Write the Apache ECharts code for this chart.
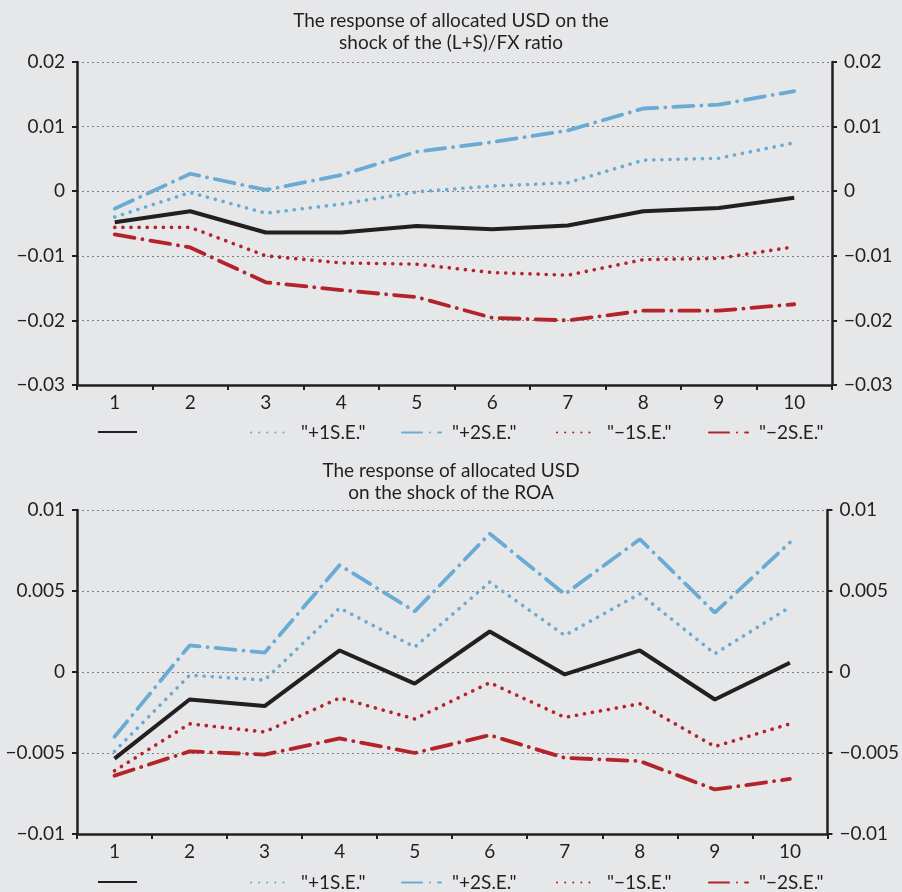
<!DOCTYPE html>
<html><head><meta charset="utf-8">
<script src="https://cdn.jsdelivr.net/npm/echarts@6/dist/echarts.min.js"></script>
<style>html,body{margin:0;padding:0;background:#e6e7e8;}#c{width:902px;height:892px;}</style>
</head><body><div id="c"></div>
<script>
const categories = ['1','2','3','4','5','6','7','8','9','10'];
const topTitle = 'The response of allocated USD on the\nshock of the (L+S)/FX ratio';
const bottomTitle = 'The response of allocated USD\non the shock of the ROA';
const seriesNames = ['IRF', '"+1S.E."', '"+2S.E."', '"\u22121S.E."', '"\u22122S.E."'];

// top chart: (L+S)/FX ratio shock
const topIRF   = [-0.0048, -0.0031, -0.0064, -0.0064, -0.0054, -0.0059, -0.0053, -0.0031, -0.0026, -0.0010];
const topP1SE  = [-0.0040, -0.0002, -0.0034, -0.0020, -0.0001, 0.0008, 0.0013, 0.0048, 0.0051, 0.0075];
const topP2SE  = [-0.0027, 0.0027, 0.0002, 0.0025, 0.0061, 0.0076, 0.0094, 0.0128, 0.0134, 0.0155];
const topM1SE  = [-0.0056, -0.0056, -0.0100, -0.0111, -0.0113, -0.0126, -0.0130, -0.0106, -0.0104, -0.0086];
const topM2SE  = [-0.0067, -0.0087, -0.0141, -0.0153, -0.0164, -0.0196, -0.0200, -0.0185, -0.0185, -0.0175];

// bottom chart: ROA shock
const botIRF   = [-0.00535, -0.0017, -0.0021, 0.00133, -0.00072, 0.0025, -0.00015, 0.00133, -0.0017, 0.00057];
const botP1SE  = [-0.0049, -0.0002, -0.0005, 0.00395, 0.00154, 0.00555, 0.00226, 0.00483, 0.00113, 0.0040];
const botP2SE  = [-0.0040, 0.00164, 0.00119, 0.0066, 0.00374, 0.00854, 0.0048, 0.0082, 0.00366, 0.0080];
const botM1SE  = [-0.0061, -0.0032, -0.0037, -0.0016, -0.0029, -0.00066, -0.0028, -0.00196, -0.0046, -0.0032];
const botM2SE  = [-0.0064, -0.0049, -0.0051, -0.0041, -0.0050, -0.0039, -0.0053, -0.0055, -0.00725, -0.0066];

const topAxis = {min: -0.03, max: 0.02, interval: 0.01};
const botAxis = {min: -0.01, max: 0.01, interval: 0.005};

const FONT = 'Lato';
const FS = 19;
const INK = '#231f20';
const BLUE = '#6aabd5';
const RED = '#b3232a';

function fmt(v){
  const r = Math.round(v*100000)/100000;
  if (r === 0) return '0';
  return (r < 0 ? '\u2212' : '') + String(Math.abs(r));
}

const styles = [
  {color: INK, width: 4, type: 'solid', cap: 'butt'},
  {color: BLUE, width: 3.6, type: [0.1, 8], cap: 'round'},
  {color: BLUE, width: 3.8, type: [20, 8, 0.1, 8], cap: 'round'},
  {color: RED, width: 3.6, type: [0.1, 8], cap: 'round'},
  {color: RED, width: 3.8, type: [20, 8, 0.1, 8], cap: 'round'}
];

function yAxes(gi, ax, pos){
  return {
    type: 'value', gridIndex: gi, position: pos, min: ax.min, max: ax.max, interval: ax.interval,
    axisLine: {show: true, lineStyle: {color: INK, width: 2.5}},
    axisTick: {show: true, inside: false, length: 5, lineStyle: {color: INK, width: 2}},
    axisLabel: {show: true, color: INK, fontFamily: FONT, fontSize: FS, margin: 12, formatter: fmt},
    splitLine: {show: pos === 'left', lineStyle: {color: '#7f7f7f', type: [2, 3], width: 1}}
  };
}
function xAxis(gi){
  return {
    type: 'category', gridIndex: gi, data: categories, boundaryGap: true,
    axisLine: {show: true, onZero: false, lineStyle: {color: INK, width: 2.5}},
    axisTick: {show: true, alignWithLabel: false, length: 5, lineStyle: {color: INK, width: 2}},
    axisLabel: {color: INK, fontFamily: FONT, fontSize: FS, margin: 8},
    splitLine: {show: false}
  };
}

const topData = [topIRF, topP1SE, topP2SE, topM1SE, topM2SE];
const botData = [botIRF, botP1SE, botP2SE, botM1SE, botM2SE];
const series = [];
[topData, botData].forEach((set, gi) => {
  set.forEach((d, i) => {
    series.push({
      type: 'line', name: seriesNames[i], data: d,
      xAxisIndex: gi, yAxisIndex: gi*2,
      symbol: 'none', showSymbol: false, smooth: false, silent: true, animation: false,
      lineStyle: styles[i], itemStyle: {color: styles[i].color},
      z: 10 - i
    });
  });
});

const legendLefts = [97, 250, 401, 556, 708];
const legendTops = [423, 873];
const legends = [];
legendTops.forEach(t => {
  seriesNames.forEach((n, i) => {
    legends.push({
      data: [n], left: legendLefts[i], top: t, orient: 'horizontal',
      itemWidth: 39, itemHeight: 18, selectedMode: false, padding: 0,
      itemStyle: {opacity: 0, borderWidth: 0},
      formatter: i === 0 ? () => '' : '{name}',
      textStyle: {color: INK, fontFamily: FONT, fontSize: FS, padding: [0, 0, 0, 6]}
    });
  });
});

const option = {
  backgroundColor: '#e6e7e8',
  animation: false,
  title: [
    {text: topTitle, left: 'center', top: 5,
     textStyle: {color: INK, fontFamily: FONT, fontSize: FS, fontWeight: 'normal', lineHeight: 22}},
    {text: bottomTitle, left: 'center', top: 455,
     textStyle: {color: INK, fontFamily: FONT, fontSize: FS, fontWeight: 'normal', lineHeight: 22}}
  ],
  textStyle: {fontFamily: FONT},
  legend: legends,
  grid: [
    {left: 77, right: 70, top: 62, height: 323},
    {left: 77, right: 70, top: 510, height: 324}
  ],
  xAxis: [xAxis(0), xAxis(1)],
  yAxis: [yAxes(0, topAxis, 'left'), yAxes(0, topAxis, 'right'), yAxes(1, botAxis, 'left'), yAxes(1, botAxis, 'right')],
  series: series
};

const chart = echarts.init(document.getElementById('c'), null, {renderer: 'canvas'});
chart.setOption(option);
</script></body></html>
